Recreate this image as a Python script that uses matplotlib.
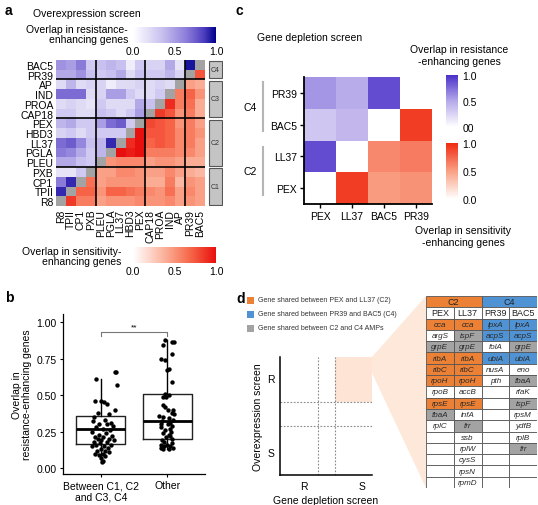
import numpy as np
import matplotlib
matplotlib.use("Agg")
import matplotlib.pyplot as plt
from matplotlib.colors import LinearSegmentedColormap, Normalize
from matplotlib.cm import ScalarMappable
from matplotlib.patches import Rectangle, Polygon

plt.rcParams['font.family'] = ['Liberation Sans', 'DejaVu Sans']

# ---------------- data ----------------
# panel a (display grid: rows top->bottom, cols left->right; diagonal = self)
rows_a = ['BAC5', 'PR39', 'AP', 'IND', 'PROA', 'CAP18', 'PEX', 'HBD3', 'LL37',
          'PGLA', 'PLEU', 'PXB', 'CP1', 'TPII', 'R8']
cols_a = rows_a[::-1]
overlap_a = [
    [0.55, 0.50, 0.65, 0.30, 0.35, 0.40, 0.35, 0.10, 0.30, 0.25, 0.25, 0.45, 0.15, 0.95, 0.00],
    [0.45, 0.45, 0.55, 0.35, 0.30, 0.35, 0.45, 0.20, 0.35, 0.30, 0.30, 0.40, 0.25, 0.00, 0.75],
    [0.20, 0.40, 0.20, 0.25, 0.25, 0.10, 0.20, 0.20, 0.25, 0.20, 0.25, 0.20, 0.00, 0.45, 0.40],
    [0.70, 0.70, 0.70, 0.20, 0.25, 0.50, 0.50, 0.30, 0.20, 0.20, 0.30, 0.00, 0.60, 0.70, 0.50],
    [0.20, 0.25, 0.20, 0.15, 0.30, 0.20, 0.20, 0.20, 0.45, 0.35, 0.00, 0.90, 0.60, 0.65, 0.40],
    [0.30, 0.30, 0.20, 0.20, 0.35, 0.30, 0.20, 0.30, 0.50, 0.00, 0.85, 0.75, 0.50, 0.60, 0.40],
    [0.40, 0.45, 0.30, 0.30, 0.50, 0.70, 0.75, 0.30, 0.00, 0.80, 0.75, 0.70, 0.50, 0.60, 0.45],
    [0.25, 0.30, 0.20, 0.30, 0.30, 0.30, 0.30, 0.00, 1.00, 0.75, 0.75, 0.70, 0.55, 0.60, 0.50],
    [0.70, 0.75, 0.60, 0.35, 0.40, 0.90, 0.00, 0.90, 1.00, 0.70, 0.75, 0.70, 0.55, 0.60, 0.45],
    [0.65, 0.60, 0.45, 0.30, 0.40, 0.00, 1.00, 0.95, 1.00, 0.60, 0.60, 0.60, 0.55, 0.55, 0.45],
    [0.45, 0.45, 0.35, 0.30, 0.00, 0.50, 0.55, 0.55, 0.55, 0.45, 0.50, 0.50, 0.45, 0.40, 0.40],
    [0.15, 0.15, 0.30, 0.00, 0.45, 0.45, 0.55, 0.55, 0.50, 0.45, 0.45, 0.55, 0.45, 0.40, 0.35],
    [0.65, 0.90, 0.00, 0.65, 0.45, 0.50, 0.50, 0.50, 0.50, 0.40, 0.40, 0.60, 0.35, 0.50, 0.45],
    [0.90, 0.00, 0.70, 0.70, 0.50, 0.70, 0.70, 0.65, 0.60, 0.55, 0.50, 0.65, 0.45, 0.55, 0.45],
    [0.00, 0.85, 0.60, 0.60, 0.45, 0.50, 0.50, 0.50, 0.55, 0.50, 0.50, 0.55, 0.45, 0.50, 0.45],
]
cluster_names = ['C4', 'C3', 'C2', 'C1']
cluster_sizes = [2, 4, 5, 4]

# panel b
group_labels = ['Between C1, C2\nand C3, C4', 'Other']
box_q1 = [0.165, 0.20]
box_med = [0.27, 0.32]
box_q3 = [0.36, 0.505]
whisk_lo = [0.04, 0.13]
whisk_hi = [0.61, 0.875]
group1_y = [0.66, 0.66, 0.61, 0.57, 0.46, 0.46, 0.45, 0.44, 0.40, 0.38, 0.37, 0.35,
            0.33, 0.32, 0.31, 0.30, 0.30, 0.29, 0.28, 0.27, 0.26, 0.25, 0.24, 0.23,
            0.22, 0.21, 0.21, 0.20, 0.20, 0.19, 0.19, 0.18, 0.18, 0.17, 0.16, 0.16,
            0.15, 0.15, 0.14, 0.13, 0.12, 0.12, 0.11, 0.10, 0.10, 0.09, 0.08, 0.07,
            0.05, 0.04]
group1_jit = [0.21, 0.23, -0.08, 0.24, -0.09, 0.01, 0.05, 0.09, 0.21, -0.04, 0.12, -0.10,
              0.06, -0.12, 0.16, -0.02, 0.10, 0.19, -0.07, 0.03, 0.14, -0.13, 0.08, -0.03,
              0.17, -0.09, 0.04, 0.12, -0.05, 0.20, 0.01, -0.11, 0.09, -0.01, 0.15, -0.07,
              0.05, -0.14, 0.11, 0.00, -0.06, 0.07, 0.13, -0.09, 0.03, -0.02, 0.06, 0.01,
              0.03, 0.02]
group2_y = [0.88, 0.865, 0.86, 0.84, 0.78, 0.75, 0.74, 0.68, 0.67, 0.59, 0.51, 0.50,
            0.49, 0.49, 0.43, 0.42, 0.40, 0.40, 0.38, 0.37, 0.36, 0.35, 0.34, 0.33,
            0.32, 0.31, 0.30, 0.30, 0.29, 0.28, 0.27, 0.26, 0.25, 0.24, 0.23, 0.22,
            0.21, 0.20, 0.19, 0.18, 0.17, 0.16, 0.16, 0.15, 0.15, 0.14, 0.14, 0.13, 0.13]
group2_jit = [-0.03, 0.08, 0.10, -0.07, 0.07, -0.09, -0.03, 0.02, 0.00, 0.08, -0.04, 0.02,
              -0.02, -0.06, -0.07, -0.03, 0.01, 0.09, 0.08, 0.10, -0.12, -0.06, 0.03, 0.09,
              -0.08, 0.05, -0.10, 0.01, 0.07, -0.09, 0.04, -0.04, 0.06, -0.06, 0.02, 0.05,
              -0.02, 0.08, -0.08, -0.05, 0.07, -0.09, 0.00, -0.05, 0.04, -0.10, 0.09, -0.06, 0.03]

# panel c (display grid)
rows_c = ['PR39', 'BAC5', 'LL37', 'PEX']
cols_c = ['PEX', 'LL37', 'BAC5', 'PR39']
overlap_c = [
    [0.58, 0.48, 0.88, 0.00],
    [0.33, 0.42, 0.00, 0.92],
    [0.88, 0.00, 0.60, 0.66],
    [0.00, 0.92, 0.52, 0.56],
]

# panel d table
tab_heads = ['PEX', 'LL37', 'PR39', 'BAC5']
pex_genes = ['cca', 'argS', 'grpE', 'ribA', 'ribC', 'rpoH', 'rpoB', 'rpsE', 'fbaA', 'rplC']
pex_cats = ['C2', 'N', 'S', 'C2', 'C2', 'C2', 'N', 'C2', 'S', 'N']
ll37_genes = ['cca', 'ispF', 'grpE', 'ribA', 'ribC', 'rpoH', 'accB', 'rpsE', 'infA', 'frr',
              'ssb', 'rplW', 'cysS', 'rpsN', 'rpmD']
ll37_cats = ['C2', 'S', 'S', 'C2', 'C2', 'C2', 'N', 'C2', 'N', 'S', 'N', 'N', 'N', 'N', 'N']
pr39_genes = ['lpxA', 'acpS', 'folA', 'ubiA', 'nusA', 'pth']
pr39_cats = ['C4', 'C4', 'N', 'C4', 'N', 'N']
bac5_genes = ['lpxA', 'acpS', 'grpE', 'ubiA', 'eno', 'fbaA', 'rfaK', 'ispF', 'rpsM', 'ydfB',
              'rplB', 'frr']
bac5_cats = ['C4', 'C4', 'S', 'C4', 'N', 'S', 'N', 'S', 'N', 'N', 'N', 'S']
legend_d = ['Gene shared between PEX and LL37 (C2)',
            'Gene shared between PR39 and BAC5 (C4)',
            'Gene shared between C2 and C4 AMPs']

# ---------------- styles ----------------
ORANGE = '#ec8034'
BLUE = '#4f93d4'
GREY = '#a3a3a3'
cat_col = {'C2': ORANGE, 'C4': BLUE, 'S': GREY, 'N': 'white'}
blue_a = LinearSegmentedColormap.from_list('ba', [(0, '#ffffff'), (0.35, '#c8c0ee'), (0.65, '#8b7bd9'),
                                                  (0.85, '#4f3fc0'), (1.0, '#00008b')])
red_a = LinearSegmentedColormap.from_list('ra', [(0, '#ffffff'), (0.4, '#fbac94'), (0.7, '#f66446'),
                                                 (1.0, '#e8100e')])
blue_c = LinearSegmentedColormap.from_list('bc', ['#ffffff', '#b6a8ea', '#4a30c8'])
red_c = LinearSegmentedColormap.from_list('rc', ['#ffffff', '#f9a084', '#f02a12'])

W, H = 538, 506
fig = plt.figure(figsize=(W / 100, H / 100), dpi=100)


def pax(x0, y0, x1, y1, **kw):
    return fig.add_axes([x0 / W, 1 - y1 / H, (x1 - x0) / W, (y1 - y0) / H], **kw)


over = pax(0, 0, W, H, zorder=-1)
over.set_xlim(0, W)
over.set_ylim(H, 0)
over.axis('off')

# panel labels
for lab, (x, y) in zip('abcd', [(5, 11), (5, 298), (236, 11), (236, 299)]):
    over.text(x, y, lab, fontsize=10, fontweight='bold', ha='left', va='center')

# ---------------- panel a ----------------
A = np.array(overlap_a)
n = A.shape[0]
ii, jj = np.indices(A.shape)
diag = jj == (n - 1 - ii)
upper = jj < (n - 1 - ii)
lower = jj > (n - 1 - ii)
axa = pax(56, 61, 205, 207)
axa.pcolormesh(np.ma.masked_where(~upper, A), cmap=blue_a, vmin=0, vmax=1,
               edgecolors='none', antialiased=False)
axa.pcolormesh(np.ma.masked_where(~lower, A), cmap=red_a, vmin=0, vmax=1,
               edgecolors='none', antialiased=False)
axa.pcolormesh(np.ma.masked_where(~diag, np.ones_like(A)),
               cmap=LinearSegmentedColormap.from_list('g', [GREY, GREY]),
               vmin=0, vmax=1, edgecolors='none', antialiased=False)
axa.set_xlim(0, n)
axa.set_ylim(n, 0)
axa.set_xticks(np.arange(n) + 0.5)
axa.set_xticklabels(cols_a, rotation=90, fontsize=7.5)
axa.set_yticks(np.arange(n) + 0.5)
axa.set_yticklabels(rows_a, fontsize=7.5)
axa.tick_params(length=0, pad=2)
for s in axa.spines.values():
    s.set_visible(False)
bounds = np.cumsum(cluster_sizes)[:-1]
for b in bounds:
    axa.axhline(b, color='black', lw=1.2)
    axa.axvline(n - b, color='black', lw=1.2)

# side cluster bars
axs = pax(208, 61, 223, 207)
axs.set_xlim(0, 1)
axs.set_ylim(n, 0)
axs.axis('off')
start = 0
for name, sz in zip(cluster_names, cluster_sizes):
    axs.add_patch(Rectangle((0.05, start + 0.12), 0.9, sz - 0.24, facecolor='#c4c4c4',
                            edgecolor='#555555', lw=0.8))
    axs.text(0.5, start + sz / 2, name, ha='center', va='center', fontsize=5, color='#333333')
    start += sz

# a colorbars
over.text(33, 14, 'Overexpression screen', fontsize=7.5, ha='left', va='center')
over.text(128, 35, 'Overlap in resistance-\nenhancing genes', fontsize=7.5, ha='right',
          va='center', linespacing=1.1)
cax1 = pax(133, 28, 216, 44)
cb1 = fig.colorbar(ScalarMappable(Normalize(0, 1), blue_a), cax=cax1, orientation='horizontal')
cb1.set_ticks([0, 0.5, 1.0])
cb1.set_ticklabels(['0.0', '0.5', '1.0'])
cb1.outline.set_visible(False)
cax1.tick_params(length=0, labelsize=7.5, pad=2)

over.text(121, 257, 'Overlap in sensitivity-\nenhancing genes', fontsize=7.5, ha='right',
          va='center', linespacing=1.1)
cax2 = pax(133, 248, 216, 264)
cb2 = fig.colorbar(ScalarMappable(Normalize(0, 1), red_a), cax=cax2, orientation='horizontal')
cb2.set_ticks([0, 0.5, 1.0])
cb2.set_ticklabels(['0.0', '0.5', '1.0'])
cb2.outline.set_visible(False)
cax2.tick_params(length=0, labelsize=7.5, pad=2)

# ---------------- panel b ----------------
axb = pax(63, 315, 205, 475)
stats = []
for k in range(2):
    stats.append(dict(med=box_med[k], q1=box_q1[k], q3=box_q3[k], whislo=whisk_lo[k],
                      whishi=whisk_hi[k], fliers=[]))
axb.bxp(stats, positions=[1, 2], widths=0.74, showcaps=False, showfliers=False,
        boxprops=dict(color='#222222', lw=1.0),
        medianprops=dict(color='black', lw=2.0),
        whiskerprops=dict(color='black', lw=1.0))
axb.scatter(1 + np.array(group1_jit), group1_y, s=10, color='black', zorder=3, lw=0)
axb.scatter(2 + np.array(group2_jit), group2_y, s=10, color='black', zorder=3, lw=0)
axb.plot([1, 1, 2, 2], [0.905, 0.93, 0.93, 0.905], color='#777777', lw=0.8)
axb.text(1.5, 0.945, '**', ha='center', va='bottom', fontsize=6)
axb.set_xlim(0.43, 2.57)
axb.set_ylim(-0.04, 1.055)
axb.set_yticks([0, 0.25, 0.5, 0.75, 1.0])
axb.set_yticklabels(['0.00', '0.25', '0.50', '0.75', '1.00'])
axb.set_xticks([1, 2])
axb.set_xticklabels(group_labels)
axb.tick_params(labelsize=7.5, length=2.5, width=0.8, pad=2)
for s in ['top', 'right']:
    axb.spines[s].set_visible(False)
for s in ['left', 'bottom']:
    axb.spines[s].set_linewidth(0.9)
axb.set_ylabel('Overlap in\nresistance-enhancing genes', fontsize=7.5, linespacing=1.1, labelpad=3)

# ---------------- panel c ----------------
C = np.array(overlap_c)
m = C.shape[0]
ci, cj = np.indices(C.shape)
c_upper = cj < (m - 1 - ci)
c_lower = cj > (m - 1 - ci)
axc = pax(304, 78, 432, 205)
axc.pcolormesh(np.ma.masked_where(~c_upper, C), cmap=blue_c, vmin=0, vmax=1)
axc.pcolormesh(np.ma.masked_where(~c_lower, C), cmap=red_c, vmin=0, vmax=1)
axc.set_xlim(0, m)
axc.set_ylim(m, 0)
axc.set_xticks(np.arange(m) + 0.5)
axc.set_xticklabels(cols_c)
axc.set_yticks(np.arange(m) + 0.5)
axc.set_yticklabels(rows_c)
axc.tick_params(labelsize=7.5, length=3, width=1, pad=2)
for s in ['top', 'right']:
    axc.spines[s].set_visible(False)
for s in ['left', 'bottom']:
    axc.spines[s].set_linewidth(1.3)

over.text(257, 38, 'Gene depletion screen', fontsize=7.5, ha='left', va='center')
for name, (y0, y1) in zip(['C4', 'C2'], [(83, 132), (148, 196)]):
    over.plot([263, 263], [y0, y1], color='#b5b5b5', lw=1.5)
    over.text(257, (y0 + y1) / 2, name, fontsize=7.5, ha='right', va='center')

over.text(459, 56, 'Overlap in resistance\n-enhancing genes', fontsize=7.5, ha='center',
          va='center', linespacing=1.15)
cax3 = pax(446, 76, 458, 128)
cb3 = fig.colorbar(ScalarMappable(Normalize(0, 1), blue_c), cax=cax3)
cb3.set_ticks([0, 0.5, 1.0])
cb3.set_ticklabels(['00', '0.5', '1.0'])
cb3.outline.set_visible(False)
cax3.tick_params(length=0, labelsize=7.5, pad=3)

cax4 = pax(446, 144, 458, 200)
cb4 = fig.colorbar(ScalarMappable(Normalize(0, 1), red_c), cax=cax4)
cb4.set_ticks([0, 0.5, 1.0])
cb4.set_ticklabels(['0.0', '0.5', '1.0'])
cb4.outline.set_visible(False)
cax4.tick_params(length=0, labelsize=7.5, pad=3)
over.text(463, 237, 'Overlap in sensitivity\n-enhancing genes', fontsize=7.5, ha='center',
          va='center', linespacing=1.15)

# ---------------- panel d ----------------
for k, (txt, col) in enumerate(zip(legend_d, [ORANGE, BLUE, GREY])):
    y = 301 + 14 * k
    over.add_patch(Rectangle((247, y - 3.5), 7, 7, facecolor=col, edgecolor='none'))
    over.text(258, y, txt, fontsize=5, ha='left', va='center', color='#333333')

PEACH = '#fde4d4'
over.add_patch(Polygon([(372, 358), (426, 297), (426, 489), (372, 374)], closed=True,
                       facecolor=PEACH, edgecolor='none', alpha=0.85))

axd = pax(280, 358, 372, 476)
axd.patch.set_alpha(0)
axd.set_xlim(0, 1)
axd.set_ylim(0, 1)
axd.add_patch(Rectangle((0.6, 0.62), 0.4, 0.38, facecolor=PEACH, edgecolor='none'))
for xv in [0.41, 0.6]:
    axd.axvline(xv, color='#888888', lw=0.8, ls=(0, (1.5, 1.5)))
for yv in [0.62, 0.415]:
    axd.axhline(yv, color='#888888', lw=0.8, ls=(0, (1.5, 1.5)))
axd.set_xticks([0.26, 0.89])
axd.set_xticklabels(['R', 'S'])
axd.set_yticks([0.82, 0.195])
axd.set_yticklabels(['R', 'S'])
axd.tick_params(length=0, labelsize=7.5, pad=4)
for s in ['top', 'right']:
    axd.spines[s].set_visible(False)
for s in ['left', 'bottom']:
    axd.spines[s].set_linewidth(1.1)
axd.set_xlabel('Gene depletion screen', fontsize=7.5, labelpad=3)
axd.set_ylabel('Overexpression screen', fontsize=7.5, labelpad=3)

# table
n_rows = 2 + max(len(pex_genes), len(ll37_genes), len(pr39_genes), len(bac5_genes))
axt = pax(426, 297, 537, 489)
axt.set_xlim(0, 4)
axt.set_ylim(n_rows, 0)
axt.axis('off')
EDGE = '#555555'
axt.add_patch(Rectangle((0, 0), 2, 1, facecolor=ORANGE, edgecolor=EDGE, lw=0.6))
axt.add_patch(Rectangle((2, 0), 2, 1, facecolor=BLUE, edgecolor=EDGE, lw=0.6))
axt.text(1, 0.5, 'C2', ha='center', va='center', fontsize=6.5, color='#222222')
axt.text(3, 0.5, 'C4', ha='center', va='center', fontsize=6.5, color='#222222')
for c, h in enumerate(tab_heads):
    axt.add_patch(Rectangle((c, 1), 1, 1, facecolor='white', edgecolor=EDGE, lw=0.6))
    axt.text(c + 0.5, 1.5, h, ha='center', va='center', fontsize=6.5, color='#222222')
columns = [(pex_genes, pex_cats), (ll37_genes, ll37_cats), (pr39_genes, pr39_cats),
           (bac5_genes, bac5_cats)]
for c, (genes, cats) in enumerate(columns):
    for r in range(n_rows - 2):
        if r < len(genes):
            fc = cat_col[cats[r]]
            axt.add_patch(Rectangle((c, r + 2), 1, 1, facecolor=fc, edgecolor=EDGE, lw=0.6))
            axt.text(c + 0.5, r + 2.5, genes[r], ha='center', va='center', fontsize=5.8,
                     style='italic', color='#2a2a2a')
        else:
            axt.add_patch(Rectangle((c, r + 2), 1, 1, facecolor='white', edgecolor=EDGE, lw=0.6))

fig.savefig('out.png', dpi=100)
